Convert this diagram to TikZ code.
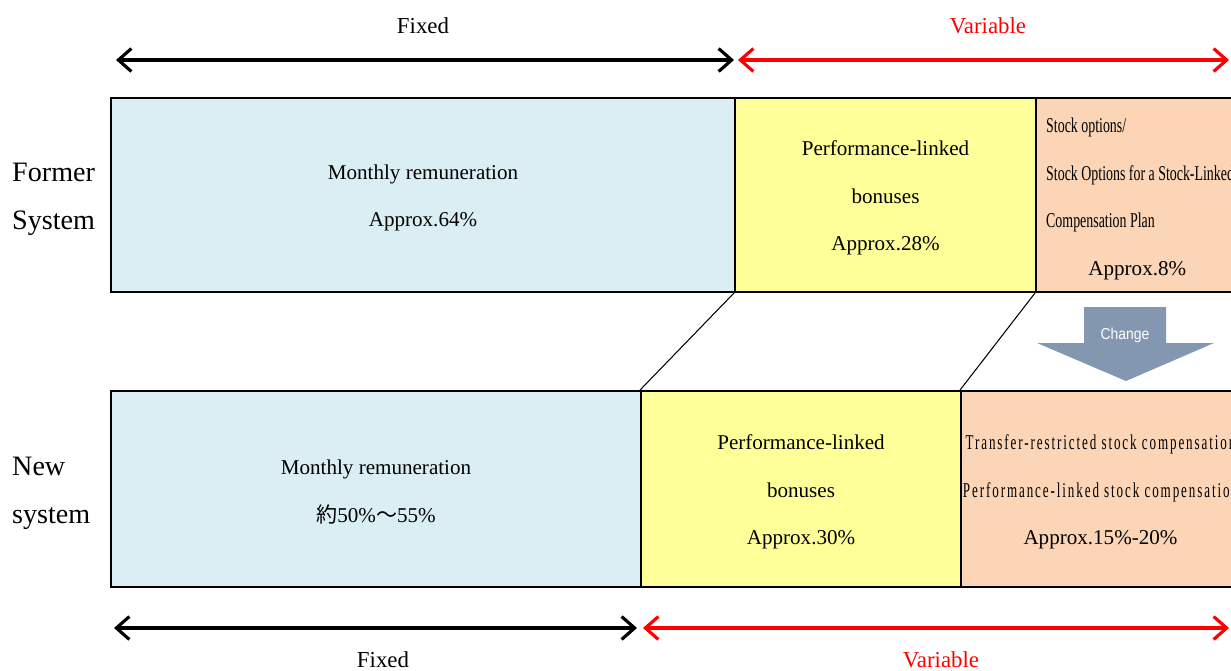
\documentclass[tikz,border=0pt]{standalone}
\usepackage{fontspec}
\setmainfont{Liberation Serif}
\newfontfamily\narrowfont[FakeStretch=0.66]{Liberation Serif}
\newfontfamily\spacedfont[FakeStretch=0.62,LetterSpace=9]{Liberation Serif}
\newfontfamily\jpfont{Noto Sans CJK JP}
\newfontfamily\chgfont[FakeStretch=0.88]{Liberation Sans}
\usepackage{tikz}
\usetikzlibrary{arrows.meta, fit}
\definecolor{fixedBlue}{RGB}{218, 238, 243}
\definecolor{perfYellow}{RGB}{255, 255, 153}
\definecolor{stockOrange}{RGB}{251, 213, 181}
\definecolor{changeGray}{RGB}{132, 151, 176}

\begin{document}
\begin{tikzpicture}[x=0.02cm, y=-0.02cm,
  partbox/.style={draw, line width=1.1pt, inner sep=0pt},
  parttext/.style={align=center, yshift=-1.7pt, font=\fontsize{12}{27.2}\selectfont},
  spanarrow/.style={line width=1.8pt,
    {Straight Barb[length=2.6mm, width=4.6mm]}-{Straight Barb[length=2.6mm, width=4.6mm]}},
  sidelabel/.style={align=left, anchor=west, font=\fontsize{16}{27.2}\selectfont},
  spanlabel/.style={font=\fontsize{13}{13}\selectfont}]
  \useasboundingbox (0,0) rectangle (1231,670);
  \clip (0,0) rectangle (1231,670);

  % Former system
  \node[partbox, fill=fixedBlue, fit={(111,98) (735,292)}] (oldfix) {};
  \node[partbox, fill=perfYellow, fit={(735,98) (1036,292)}] (oldperf) {};
  \node[partbox, fill=stockOrange, fit={(1036,98) (1245,292)}] (oldstock) {};
  \node[parttext] (oldfixtxt) at (oldfix.center) {Monthly remuneration\\Approx.64\%};
  \node[parttext] (oldperftxt) at (oldperf.center) {Performance-linked\\bonuses\\Approx.28\%};
  \node[align=left, anchor=west, font=\fontsize{12}{27.2}\selectfont] (oldstocktxt) at (1040,199)
    {{\narrowfont Stock options/}\\{\narrowfont Stock Options for a Stock-Linked}\\
     {\narrowfont Compensation Plan}\\\hspace*{24pt}Approx.8\%};

  % New system
  \node[partbox, fill=fixedBlue, fit={(111,391) (641,587)}] (newfix) {};
  \node[partbox, fill=perfYellow, fit={(641,391) (961,587)}] (newperf) {};
  \node[partbox, fill=stockOrange, fit={(961,391) (1240,587)}] (newstock) {};
  \node[parttext] (newfixtxt) at (newfix.center)
    {Monthly remuneration\\{\jpfont 約}50\%{\jpfont ～}55\%};
  \node[parttext] (newperftxt) at (newperf.center) {Performance-linked\\bonuses\\Approx.30\%};
  \node[parttext] (newstocktxt) at (newstock.center)
    {{\spacedfont Transfer-restricted stock compensation}\\
     {\spacedfont Performance-linked stock compensation}\\Approx.15\%-20\%};

  \draw[line width=0.6pt] (oldperf.south west) -- (newperf.north west);
  \draw[line width=0.6pt] (oldstock.south west) -- (newstock.north west);

  % Change arrow
  \fill[changeGray] (1084,307) -- (1166,307) -- (1166,343) -- (1214,343)
    -- (1126,381) -- (1037,343) -- (1084,343) -- cycle;
  \node[text=white, font=\chgfont\fontsize{9}{9}\selectfont] (chg) at (1125,335) {Change};

  % Row labels
  \node[sidelabel] (oldlbl) at (6,199) {Former\\System};
  \node[sidelabel] (newlbl) at (6,493) {New\\system};

  % Fixed / Variable spans
  \coordinate (topA) at (116,60);
  \coordinate (topB) at (734,60);
  \coordinate (topC) at (738,60);
  \coordinate (topD) at (1229,60);
  \coordinate (botA) at (114,628);
  \coordinate (botB) at (637,628);
  \coordinate (botC) at (643,628);
  \coordinate (botD) at (1229,628);
  \draw[spanarrow] (topA) -- (topB);
  \draw[spanarrow, red] (topC) -- (topD);
  \draw[spanarrow] (botA) -- (botB);
  \draw[spanarrow, red] (botC) -- (botD);
  \node[spanlabel] (fixtop) at (423,26) {Fixed};
  \node[spanlabel, text=red] (vartop) at (988,26) {Variable};
  \node[spanlabel] (fixbot) at (383,660) {Fixed};
  \node[spanlabel, text=red] (varbot) at (941,660) {Variable};
\end{tikzpicture}
\end{document}
